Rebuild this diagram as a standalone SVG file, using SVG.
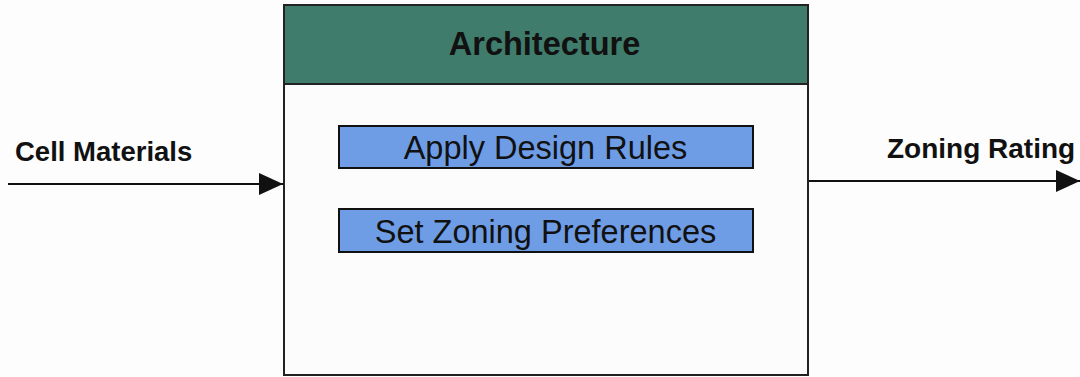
<svg xmlns="http://www.w3.org/2000/svg" width="1080" height="377" viewBox="0 0 1080 377">
  <style>
    .lbl { font-family: "Liberation Sans", Arial, sans-serif; fill: #111; }
    .bold { font-weight: bold; }
    .task { fill: #6e9de6; stroke: #111; stroke-width: 2; }
    .wire { stroke: #111; stroke-width: 2; fill: none; }
  </style>
  <defs>
    <marker id="arrow" markerUnits="userSpaceOnUse" markerWidth="24" markerHeight="22" refX="24" refY="11" orient="auto">
      <path d="M0,0 L24,11 L0,22 Z" fill="#111"/>
    </marker>
  </defs>
  <rect width="1080" height="377" fill="#fdfdfd"/>

  <!-- main activity box with its header -->
  <g id="architecture">
    <rect x="284" y="5" width="524" height="370" fill="#fcfcfc" stroke="#222" stroke-width="2"/>
    <rect x="284" y="5" width="524" height="79" fill="#407c6c" stroke="#222" stroke-width="2"/>
    <text class="lbl bold" x="544.5" y="55" font-size="32.5" text-anchor="middle">Architecture</text>
  </g>

  <g id="apply-design-rules">
    <rect class="task" x="339" y="126" width="414" height="42"/>
    <text class="lbl" x="545.5" y="159" font-size="32.5" text-anchor="middle">Apply Design Rules</text>
  </g>

  <g id="set-zoning-preferences">
    <rect class="task" x="339" y="209" width="414" height="43"/>
    <text class="lbl" x="545.5" y="243" font-size="32.5" text-anchor="middle">Set Zoning Preferences</text>
  </g>

  <g id="cell-materials">
    <text class="lbl bold" x="15" y="161" font-size="27.5">Cell Materials</text>
  </g>

  <g id="zoning-rating">
    <text class="lbl bold" x="887" y="158" font-size="28">Zoning Rating</text>
  </g>

  <!-- input and output arrows -->
  <g id="connectors">
    <line class="wire" x1="8" y1="184" x2="283" y2="184" marker-end="url(#arrow)"/>
    <line class="wire" x1="809" y1="181" x2="1080" y2="181" marker-end="url(#arrow)"/>
  </g>
</svg>
